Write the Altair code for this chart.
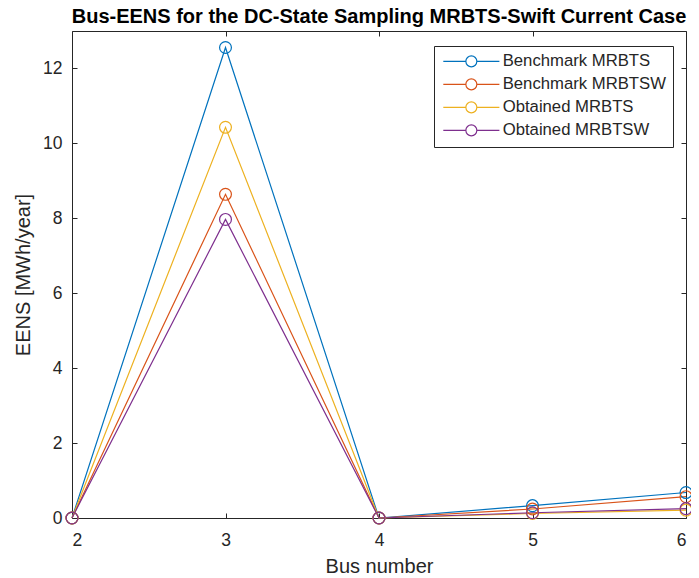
import altair as alt
import pandas as pd

buses = [2, 3, 4, 5, 6]
series_names = ["Benchmark MRBTS", "Benchmark MRBTSW", "Obtained MRBTS", "Obtained MRBTSW"]
bench_mrbts = [0, 12.56, 0, 0.33, 0.68]
bench_mrbtsw = [0, 8.64, 0, 0.24, 0.57]
obt_mrbts = [0, 10.43, 0, 0.12, 0.21]
obt_mrbtsw = [0, 7.97, 0, 0.14, 0.25]
colors = ["#0072BD", "#D95319", "#EDB120", "#7E2F8E"]
y_ticks = [0, 2, 4, 6, 8, 10, 12]
x_ticks = [2, 3, 4, 5, 6]

rows = []
for name, vals in zip(series_names, [bench_mrbts, bench_mrbtsw, obt_mrbts, obt_mrbtsw]):
    for b, v in zip(buses, vals):
        rows.append({"bus": b, "eens": v, "series": name, "order": series_names.index(name)})
df = pd.DataFrame(rows)

FONT = "Liberation Sans"
AX = "#262626"
legend_path = "M-5.1,0H-1 M1,0H5.1 M1,0A1,1 0 1,1 -1,0A1,1 0 1,1 1,0"

xscale = alt.Scale(domain=[2, 6], nice=False)
yscale = alt.Scale(domain=[0, 13], nice=False)

lines = alt.Chart(df).mark_line(
    strokeWidth=1.2,
    point=alt.OverlayMarkDef(filled=False, size=140, strokeWidth=1.2),
).encode(
    x=alt.X("bus:Q", scale=xscale,
            axis=alt.Axis(orient="bottom", values=x_ticks, format="d", title="Bus number",
                          offset=-5, tickSize=5, labelPadding=13, titlePadding=8,
                          titleFontSize=20, titleFontWeight="normal")),
    y=alt.Y("eens:Q", scale=yscale,
            axis=alt.Axis(orient="left", values=y_ticks, format="d", title="EENS [MWh/year]",
                          offset=-5, tickSize=5, labelPadding=10, titlePadding=9,
                          titleFontSize=20, titleFontWeight="normal")),
    color=alt.Color("series:N",
                    scale=alt.Scale(domain=series_names, range=colors),
                    legend=alt.Legend(title=None, orient="none", legendX=362, legendY=15,
                                      symbolType=legend_path, symbolSize=121,
                                      symbolStrokeWidth=1.2, symbolFillColor="white",
                                      labelFontSize=16.7, labelFont=FONT, labelColor=AX,
                                      labelLimit=400,
                                      labelOffset=23, symbolOffset=22,
                                      strokeColor=AX, fillColor="white", padding=7,
                                      rowPadding=5)),
    order=alt.Order("order:Q"),
    detail="series:N",
)

ghost = alt.Chart(df).mark_point(opacity=0).encode(
    x=alt.X("bus:Q", scale=xscale,
            axis=alt.Axis(orient="top", values=x_ticks, labels=False, title=None,
                          offset=-5, tickSize=5)),
    y=alt.Y("eens:Q", scale=yscale,
            axis=alt.Axis(orient="right", values=y_ticks, labels=False, title=None,
                          offset=-5, tickSize=5)),
)

chart = alt.layer(lines, ghost).properties(
    width=614,
    height=487,
    autosize=alt.AutoSizeParams(type="none"),
    padding={"left": 64, "top": 23, "right": 5, "bottom": 60},
    title=alt.TitleParams("Bus-EENS for the DC-State Sampling MRBTS-Swift Current Case",
                          fontSize=20, fontWeight="bold", font=FONT, color="black",
                          anchor="middle", offset=3.5),
).configure_view(stroke=AX, strokeWidth=1).configure_axis(
    domain=False, grid=False, tickColor=AX, labelColor=AX, titleColor=AX,
    labelFont=FONT, titleFont=FONT, labelFontSize=17.5,
)

chart.save("out.html", embed_options={"renderer": "svg", "actions": False})
